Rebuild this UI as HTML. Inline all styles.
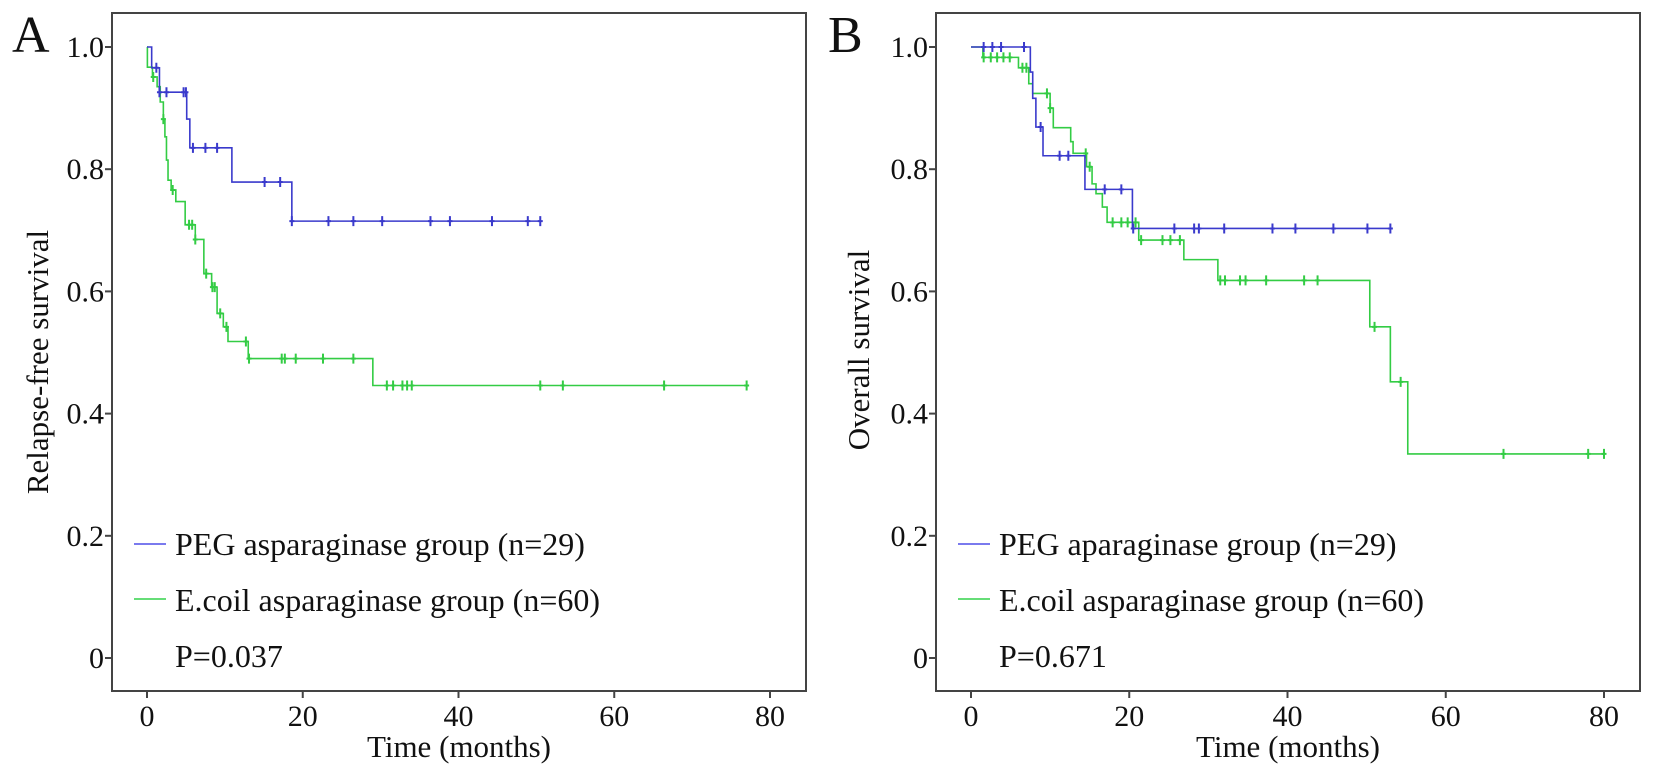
<!DOCTYPE html>
<html><head><meta charset="utf-8"><style>
html,body{margin:0;padding:0;background:#fff}
svg{display:block}
text{font-family:"Liberation Serif",serif;fill:#111}
</style></head><body>
<svg id="fig" width="1654" height="778" viewBox="0 0 1654 778"></svg>
<script>
// ---- Panel A data (Relapse-free survival) ----
const aBlueT=[0,0.6,1.6,5.1,5.5,10.9,18.6];
const aBlueS=[1,0.966,0.926,0.882,0.835,0.779,0.715];
const aBlueEnd=50.5;
const aBlueCens=[1.2,1.6,2.5,4.7,5.0,5.9,7.5,9.0,15.1,17.1,18.6,23.3,26.5,30.2,36.4,38.9,44.3,48.9,50.5];
const aGreenT=[0,0.05,0.7,1.3,1.7,2.1,2.3,2.5,2.7,3.1,3.7,4.9,6.2,7.3,8.3,9.0,9.8,10.4,13.0,29.0];
const aGreenS=[1,0.967,0.951,0.935,0.91,0.882,0.853,0.815,0.782,0.766,0.747,0.709,0.685,0.629,0.607,0.564,0.542,0.518,0.49,0.446];
const aGreenEnd=77;
const aGreenCens=[0.8,2.1,3.3,5.4,5.8,6.2,7.6,8.4,8.7,9.4,10.2,12.7,13.1,17.3,17.7,19.1,22.6,26.5,30.8,31.6,32.8,33.4,34.0,50.5,53.4,66.4,77];
// ---- Panel B data (Overall survival) ----
const bBlueT=[0,7.5,7.8,8.2,9.1,14.4,20.4];
const bBlueS=[1,0.959,0.916,0.869,0.822,0.767,0.703];
const bBlueEnd=53;
const bBlueCens=[1.6,2.7,3.8,6.7,8.8,11.2,12.3,16.9,19.0,20.5,25.7,28.2,28.8,32.0,38.1,41.0,45.8,50.1,53.0];
const bGreenT=[0,1.5,6.0,7.3,7.8,10.0,10.4,12.6,12.9,14.6,15.3,15.8,16.6,17.2,21.2,26.9,31.2,50.4,53.0,55.2];
const bGreenS=[1,0.983,0.966,0.94,0.924,0.9,0.868,0.845,0.826,0.804,0.776,0.76,0.738,0.713,0.684,0.652,0.618,0.542,0.452,0.334];
const bGreenEnd=80;
const bGreenCens=[1.6,2.5,3.3,4.1,4.9,6.5,7.0,9.6,10.0,14.5,15.0,17.9,19.0,19.8,20.8,21.5,24.2,25.2,26.4,31.5,32.1,34.0,34.7,37.3,42.1,43.8,51.0,54.3,67.3,78,80];
const xTicks=[0,20,40,60,80];
const yTicks=[0,0.2,0.4,0.6,0.8,1.0];
const yTickLabels=["0","0.2","0.4","0.6","0.8","1.0"];

const NS="http://www.w3.org/2000/svg";
const svg=document.getElementById('fig');
function mk(tag,attrs,parent){const e=document.createElementNS(NS,tag);for(const k in attrs)e.setAttribute(k,attrs[k]);(parent||svg).appendChild(e);return e;}

function panel(cfg){
  const g=mk('g',{});
  
  
  const X=t=>cfg.x0+t*(cfg.x80-cfg.x0)/80;
  const Y=s=>cfg.y0+s*(cfg.y1-cfg.y0);
  const box=mk('rect',{x:cfg.left,y:13,width:cfg.right-cfg.left,height:691-13,fill:'none',stroke:'#444','stroke-width':2},g);
  
  
  yTicks.forEach((v,i)=>{
    mk('line',{x1:cfg.left-7,x2:cfg.left,y1:Y(v),y2:Y(v),stroke:'#444','stroke-width':2},g);
    const t=mk('text',{x:cfg.left-8,y:Y(v)+10,'font-size':30,'text-anchor':'end'},g);
    t.textContent=yTickLabels[i];
    
    
  });
  xTicks.forEach(v=>{
    mk('line',{x1:X(v),x2:X(v),y1:691,y2:698,stroke:'#444','stroke-width':2},g);
    const t=mk('text',{x:X(v),y:726,'font-size':30,'text-anchor':'middle'},g);
    t.textContent=String(v);
    
    
  });
  const xt=mk('text',{x:(cfg.left+cfg.right)/2,y:757,'font-size':31,'text-anchor':'middle'},g);
  xt.textContent='Time (months)';
  
  
  const yt=mk('text',{x:0,y:0,'font-size':31,'text-anchor':'middle',transform:`translate(${cfg.ytx},${cfg.yty}) rotate(-90)`},g);
  yt.textContent=cfg.ytitle;
  
  
  const pl=mk('text',{x:cfg.letterX,y:52,'font-size':52},g);
  pl.textContent=cfg.letter;
  
  
  function curve(T,S,end,C,color,name){
    let d=`M${X(T[0])},${Y(S[0])}`;
    for(let i=1;i<T.length;i++){d+=`H${X(T[i])}V${Y(S[i])}`;}
    d+=`H${X(end)}`;
    const p=mk('path',{d:d,fill:'none',stroke:color,'stroke-width':1.6},g);
    
    
    C.forEach(c=>{
      let s=S[0];for(let i=0;i<T.length;i++){if(T[i]<=c)s=S[i];}
      const m=mk('path',{d:`M${X(c)},${Y(s)-5}V${Y(s)+5}M${X(c)-2.5},${Y(s)}H${X(c)+2.5}`,stroke:color,'stroke-width':2},g);
      
      
    });
  }
  curve(cfg.gT,cfg.gS,cfg.gEnd,cfg.gC,'#33cc44','ecoli-group');
  curve(cfg.bT,cfg.bS,cfg.bEnd,cfg.bC,'#3a3acc','peg-group');
  const L=cfg.left+22;
  const l1=mk('line',{x1:L,x2:L+32,y1:544,y2:544,stroke:'#7a7aee','stroke-width':2},g);
  
  const t1=mk('text',{x:L+41,y:555,'font-size':32},g);t1.textContent=cfg.leg1;
  
  const l2=mk('line',{x1:L,x2:L+32,y1:599,y2:599,stroke:'#66dd77','stroke-width':2},g);
  
  const t2=mk('text',{x:L+41,y:611,'font-size':32},g);t2.textContent='E.coil asparaginase group (n=60)';
  
  const t3=mk('text',{x:L+41,y:667,'font-size':32},g);t3.textContent=cfg.p;
  
}
panel({id:'a',left:112,right:806,x0:147,x80:770,y0:658,y1:47,ytx:48,yty:362,ytitle:'Relapse-free survival',letter:'A',letterX:12,
  bT:aBlueT,bS:aBlueS,bEnd:aBlueEnd,bC:aBlueCens,gT:aGreenT,gS:aGreenS,gEnd:aGreenEnd,gC:aGreenCens,
  leg1:'PEG asparaginase group (n=29)',p:'P=0.037'});
panel({id:'b',left:936,right:1640,x0:971,x80:1604,y0:658,y1:47,ytx:869,yty:350,ytitle:'Overall survival',letter:'B',letterX:828,
  bT:bBlueT,bS:bBlueS,bEnd:bBlueEnd,bC:bBlueCens,gT:bGreenT,gS:bGreenS,gEnd:bGreenEnd,gC:bGreenCens,
  leg1:'PEG aparaginase group (n=29)',p:'P=0.671'});
</script>
</body></html>
